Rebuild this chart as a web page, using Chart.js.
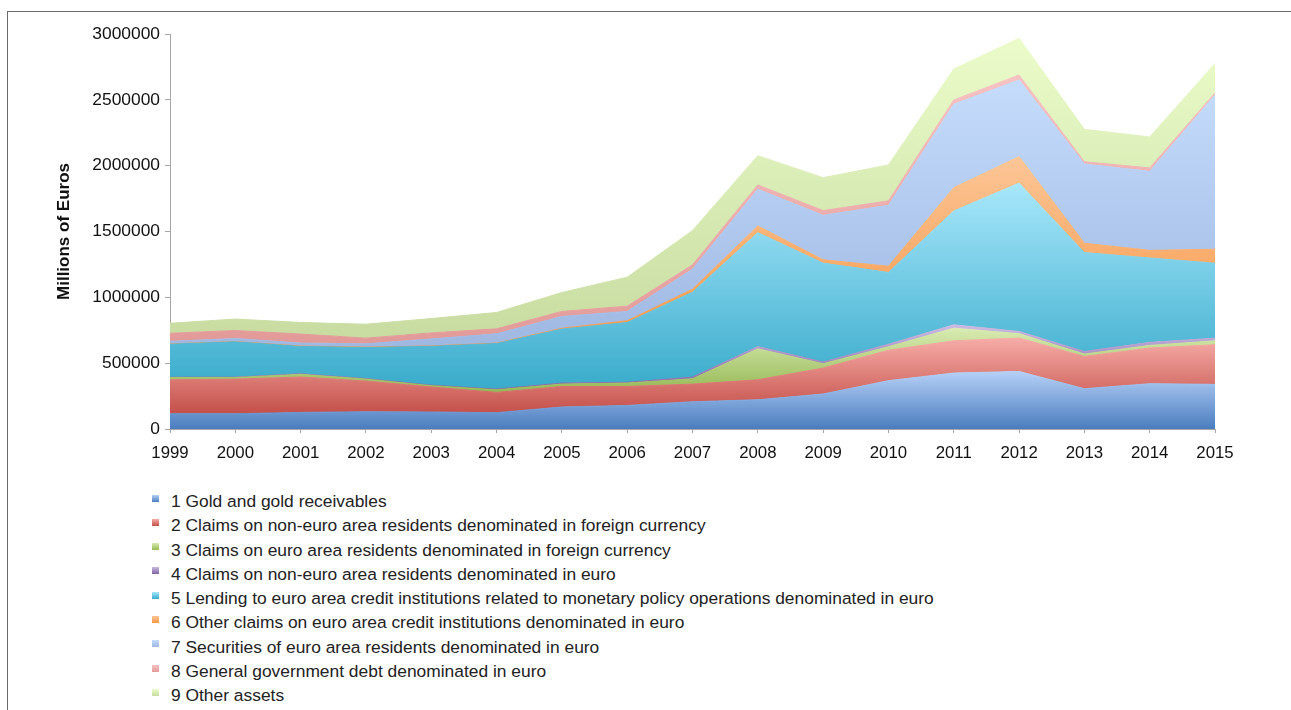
<!DOCTYPE html>
<html>
<head>
<meta charset="utf-8">
<script src="https://cdn.jsdelivr.net/npm/chart.js@4.4.1/dist/chart.umd.min.js"></script>
<style>
  html, body { margin: 0; padding: 0; background: #fff; }
  body { width: 1291px; height: 710px; position: relative; overflow: hidden; font-family: "Liberation Sans", Arial, sans-serif; }
  #frame { position: absolute; left: 7px; top: 11px; right: -10px; bottom: -10px; border-top: 1.5px solid #6b6b6b; border-left: 1.5px solid #6b6b6b; }
  #wrap { position: absolute; left: 0; top: 0; width: 1291px; height: 470px; }
  #legend { position: absolute; left: 152px; top: 489px; font-size: 17.4px; color: #222; }
  .item { height: 24.3px; line-height: 24.3px; white-space: nowrap; position: relative; padding-left: 19px; }
  .box { position: absolute; left: 0; top: 5.5px; width: 7px; height: 7px; }
</style>
</head>
<body>
<div id="frame"></div>
<div id="wrap"><canvas id="assetsChart"></canvas></div>
<div id="legend"></div>
<script>
// --- data (millions of euros, year end) ---
const years = ['1999', '2000', '2001', '2002', '2003', '2004', '2005', '2006', '2007', '2008', '2009', '2010', '2011', '2012', '2013', '2014', '2015'];
const gold = [116000, 116000, 126000, 131000, 129000, 124000, 167000, 179000, 207000, 222000, 266000, 367000, 425000, 437000, 306000, 344000, 339000];
const claimsNonEuroFx = [258000, 263000, 269000, 233000, 190000, 154000, 156000, 144000, 134000, 152000, 197000, 231000, 245000, 254000, 245000, 271000, 301000];
const claimsEuroFx = [17000, 12000, 20000, 15000, 10000, 20000, 18000, 26000, 40000, 235000, 33000, 27000, 96000, 33000, 18000, 20000, 30000];
const claimsNonEuroEur = [3000, 3000, 5000, 4000, 4000, 5000, 8000, 6000, 13000, 17000, 13000, 19000, 25000, 17000, 20000, 23000, 20000];
const lending = [250000, 268000, 207000, 236000, 295000, 346000, 410000, 454000, 645000, 865000, 751000, 545000, 865000, 1126000, 751000, 641000, 569000];
const otherClaims = [2000, 2000, 3000, 3000, 3000, 3000, 6000, 13000, 23000, 51000, 25000, 47000, 177000, 202000, 71000, 58000, 106000];
const securities = [20000, 23000, 23000, 25000, 53000, 71000, 90000, 71000, 152000, 279000, 338000, 463000, 633000, 582000, 602000, 600000, 1171000];
const govDebt = [61000, 61000, 68000, 43000, 46000, 38000, 38000, 40000, 33000, 33000, 36000, 34000, 33000, 38000, 17000, 26000, 17000];
const otherAssets = [76000, 87000, 88000, 106000, 109000, 124000, 144000, 220000, 260000, 222000, 250000, 273000, 235000, 279000, 246000, 235000, 223000];

const seriesLabels = [
    '1 Gold and gold receivables',
    '2 Claims on non-euro area residents denominated in foreign currency',
    '3 Claims on euro area residents denominated in foreign currency',
    '4 Claims on non-euro area residents denominated in euro',
    '5 Lending to euro area credit institutions related to monetary policy operations denominated in euro',
    '6 Other claims on euro area credit institutions denominated in euro',
    '7 Securities of euro area residents denominated in euro',
    '8 General government debt denominated in euro',
    '9 Other assets'
];
const seriesData = [gold, claimsNonEuroFx, claimsEuroFx, claimsNonEuroEur, lending, otherClaims, securities, govDebt, otherAssets];

// light (top) / dark (bottom) ends of each fill
const palette = [
    ['#b6d0f7', '#4a7dbf'],
    ['#f6aca7', '#c44f49'],
    ['#d9ebb2', '#96b955'],
    ['#cbbae2', '#8064a2'],
    ['#a8e7fb', '#39abcb'],
    ['#fcc697', '#f79646'],
    ['#c5dcfc', '#9fb8e2'],
    ['#f7c2c2', '#e29a98'],
    ['#ebfcca', '#c8dca1']
];
const inkColor = '#111';
const axisColor = '#a6a6a6';

// running totals, used only to size each gradient
const cum = [];
seriesData.forEach((arr, i) => {
    cum.push(arr.map((v, k) => v + (i > 0 ? cum[i - 1][k] : 0)));
});

function areaFill(i) {
    return (ctx) => {
        const chart = ctx.chart;
        const y = chart.scales.y;
        if (!chart.chartArea || !y) return palette[i][1];
        const top = Math.max(...cum[i]);
        const bottom = i === 0 ? 0 : Math.min(...cum[i - 1]);
        const y0 = y.getPixelForValue(top);
        const y1 = y.getPixelForValue(bottom);
        if (!isFinite(y0) || !isFinite(y1) || y0 === y1) return palette[i][1];
        const g = chart.ctx.createLinearGradient(0, y0, 0, y1);
        g.addColorStop(0, palette[i][0]);
        g.addColorStop(1, palette[i][1]);
        return g;
    };
}

const datasets = seriesData.map((arr, i) => ({
    label: seriesLabels[i],
    data: arr,
    fill: i === 0 ? 'origin' : '-1',
    backgroundColor: areaFill(i),
    borderColor: areaFill(i),
    borderWidth: 1,
    pointRadius: 0,
    tension: 0
}));

const chart = new Chart(document.getElementById('assetsChart').getContext('2d'), {
    type: 'line',
    data: { labels: years, datasets: datasets },
    options: {
        responsive: true,
        maintainAspectRatio: false,
        animation: false,
        layout: { padding: { top: 34, right: 76, left: 0, bottom: 0 } },
        scales: {
            x: {
                offset: false,
                grid: { drawOnChartArea: false, tickLength: 4, color: axisColor },
                border: { color: axisColor },
                ticks: { color: inkColor, padding: 10.5, maxRotation: 0, autoSkip: false, font: { family: 'Liberation Sans', size: 16.8 } },
                afterFit: (scale) => { scale.height = 41; }
            },
            y: {
                stacked: true,
                min: 0,
                max: 3000000,
                grid: { drawOnChartArea: false, tickLength: 5, color: axisColor },
                border: { color: axisColor },
                ticks: {
                    stepSize: 500000,
                    color: inkColor,
                    padding: 5,
                    font: { family: 'Liberation Sans', size: 17.4 },
                    callback: (v) => String(v)
                },
                title: {
                    display: true,
                    text: 'Millions of Euros',
                    color: inkColor,
                    padding: { top: 54, bottom: 0 },
                    font: { family: 'Liberation Sans', size: 17, weight: 'bold' }
                },
                afterFit: (scale) => { scale.width = 170; }
            }
        },
        plugins: {
            legend: { display: false },
            tooltip: { enabled: false }
        }
    }
});

// --- legend, one entry per line ---
const legendEl = document.getElementById('legend');
chart.data.datasets.forEach((ds, i) => {
    const row = document.createElement('div');
    row.className = 'item';
    const box = document.createElement('span');
    box.className = 'box';
    box.style.background = 'linear-gradient(' + palette[i][0] + ', ' + palette[i][1] + ')';
    row.appendChild(box);
    row.appendChild(document.createTextNode(ds.label));
    legendEl.appendChild(row);
});
</script>
</body>
</html>
